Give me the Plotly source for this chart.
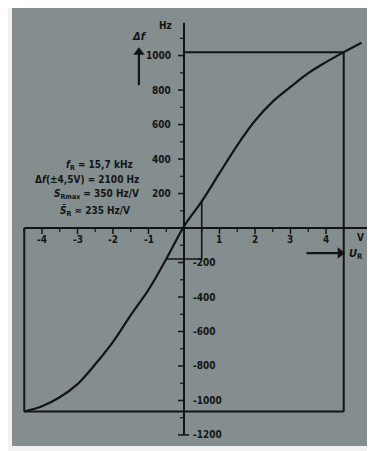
import plotly.graph_objects as go

# ---- data ----
U_R = [-4.5, -4.0, -3.5, -3.0, -2.5, -2.0, -1.5, -1.0, -0.5, 0.0,
       0.5, 1.0, 1.5, 2.0, 2.5, 3.0, 3.5, 4.0, 4.5, 5.0]
delta_f = [-1064, -1033, -981, -905, -790, -660, -505, -358, -180, 10,
           155, 318, 480, 622, 733, 818, 898, 962, 1020, 1075]

x_tick_vals = [-4, -3, -2, -1, 1, 2, 3, 4]
x_tick_text = ["-4", "-3", "-2", "-1", "1", "2", "3", "4"]
x_minor_vals = [-4.5, -3.5, -2.5, -1.5, -0.5, 0.5, 1.5, 2.5, 3.5, 4.5]
y_pos_vals = [200, 400, 600, 800, 1000]
y_pos_text = ["200", "400", "600", "800", "1000"]
y_neg_vals = [-200, -400, -600, -800, -1000, -1200]
y_neg_text = ["-200", "-400", "-600", "-800", "-1000", "-1200"]
y_minor_vals = [-1100, -900, -700, -500, -300, -100, 100, 300, 500, 700, 900, 1100]
slope_points = [-0.5, 0.5]
box_u = [-4.5, 4.5]
params_text = [
    "<i>f</i><sub>R</sub> = 15,7 kHz",
    "Δ<i>f</i>(±4,5V) = 2100 Hz",
    "<i>S</i><sub>Rmax</sub> = 350 Hz/V",
    "<i>S̄</i><sub>R</sub> ≈ 235 Hz/V",
]

# ---- layout constants (pixel -> data mapping) ----
XR = [-4.845, 5.296]
YR = [-1264, 1276]
PX_X = 35.5          # px per volt
PX_Y = 1 / 5.8       # px per Hz
INK = "#141414"
FONT = "DejaVu Sans Condensed, Liberation Sans Narrow, sans-serif"

def dx(px):
    return px / PX_X

def dy(px):
    return px / PX_Y

fig = go.Figure()
fig.add_trace(go.Scatter(x=U_R, y=delta_f, mode="lines",
                         line=dict(color=INK, width=2.2, shape="spline", smoothing=1.0),
                         hoverinfo="skip", showlegend=False))

shapes = []
def line(x0, y0, x1, y1, w=2):
    shapes.append(dict(type="line", xref="x", yref="y", x0=x0, y0=y0, x1=x1, y1=y1,
                       line=dict(color=INK, width=w)))

f_lo = delta_f[U_R.index(box_u[0])]
f_hi = delta_f[U_R.index(box_u[1])]
# axes
line(box_u[0], 0, 5.25, 0)
line(0, y_neg_vals[-1], 0, 1190)
# frame
line(0, f_hi, box_u[1], f_hi)
line(box_u[1], f_hi, box_u[1], f_lo)
line(box_u[0], f_lo, box_u[1], f_lo)
line(box_u[0], f_lo, box_u[0], 0)
# slope construction
fa = delta_f[U_R.index(slope_points[0])]
fb = delta_f[U_R.index(slope_points[1])]
line(slope_points[1], fb, slope_points[1], fa, 1.6)
line(slope_points[0], fa, slope_points[1], fa, 1.6)
# x ticks
for v in x_tick_vals:
    line(v, 0, v, -dy(6), 1.5)
for v in x_minor_vals:
    line(v, 0, v, -dy(4), 1.2)
# y ticks
for v in y_pos_vals + y_neg_vals:
    line(0, v, -dx(6), v, 1.5)
for v in y_minor_vals:
    line(0, v, -dx(4), v, 1.2)
line(0, y_neg_vals[-1], dx(5), y_neg_vals[-1], 1.5)

# arrows: shaft as a line, head as a triangle marker
ax_df = -1.27
line(ax_df, 829, ax_df, 1010, 2.2)
fig.add_trace(go.Scatter(x=[ax_df], y=[1020], mode="markers",
                         marker=dict(symbol="triangle-up", size=10, color=INK),
                         hoverinfo="skip", showlegend=False))
y_ur = -dy(25)
line(3.45, y_ur, 4.35, y_ur, 2.2)
fig.add_trace(go.Scatter(x=[4.4], y=[y_ur], mode="markers",
                         marker=dict(symbol="triangle-right", size=10, color=INK),
                         hoverinfo="skip", showlegend=False))

ann = []
tf = dict(family=FONT, size=10, color=INK, weight="bold")
for v, t in zip(x_tick_vals, x_tick_text):
    ann.append(dict(x=v, y=-dy(11), text=t, showarrow=False, xanchor="center",
                    yanchor="middle", font=tf))
for v, t in zip(y_pos_vals, y_pos_text):
    ann.append(dict(x=-dx(11), y=v, text=t, showarrow=False, xanchor="right",
                    yanchor="middle", font=tf))
for v, t in zip(y_neg_vals, y_neg_text):
    ann.append(dict(x=dx(7), y=v, text=t, showarrow=False, xanchor="left",
                    yanchor="middle", font=tf))
# units
ann.append(dict(x=-dx(19), y=1172, text="Hz", showarrow=False, font=tf))
ann.append(dict(x=4.96, y=-dy(9), text="V", showarrow=False, font=tf))
ann.append(dict(x=-1.25, y=1110, text="<i>Δf</i>", showarrow=False,
                font=dict(family=FONT, size=11, color=INK, weight="bold")))
ann.append(dict(x=4.6, y=-dy(26), text="<i>U</i><sub>R</sub>", showarrow=False,
                xanchor="left", font=dict(family=FONT, size=11, color=INK, weight="bold")))
# parameter block
p_x = [-3.38, -4.25, -3.72, -3.55]
p_y = [360, 283, 197, 99]
for x, y, t in zip(p_x, p_y, params_text):
    ann.append(dict(x=x, y=y, text=t, showarrow=False, xanchor="left",
                    yanchor="middle", font=tf))

# page body has an 8px margin, so the figure is sized to fit the window
fig.update_layout(
    width=367, height=443,
    margin=dict(l=4, r=3, t=0, b=5),
    paper_bgcolor="#f2f2f2",
    plot_bgcolor="#848e8e",
    xaxis=dict(range=XR, visible=False, fixedrange=True),
    yaxis=dict(range=YR, visible=False, fixedrange=True),
    shapes=shapes,
    annotations=ann,
    showlegend=False,
)
fig.write_html("out.html")
